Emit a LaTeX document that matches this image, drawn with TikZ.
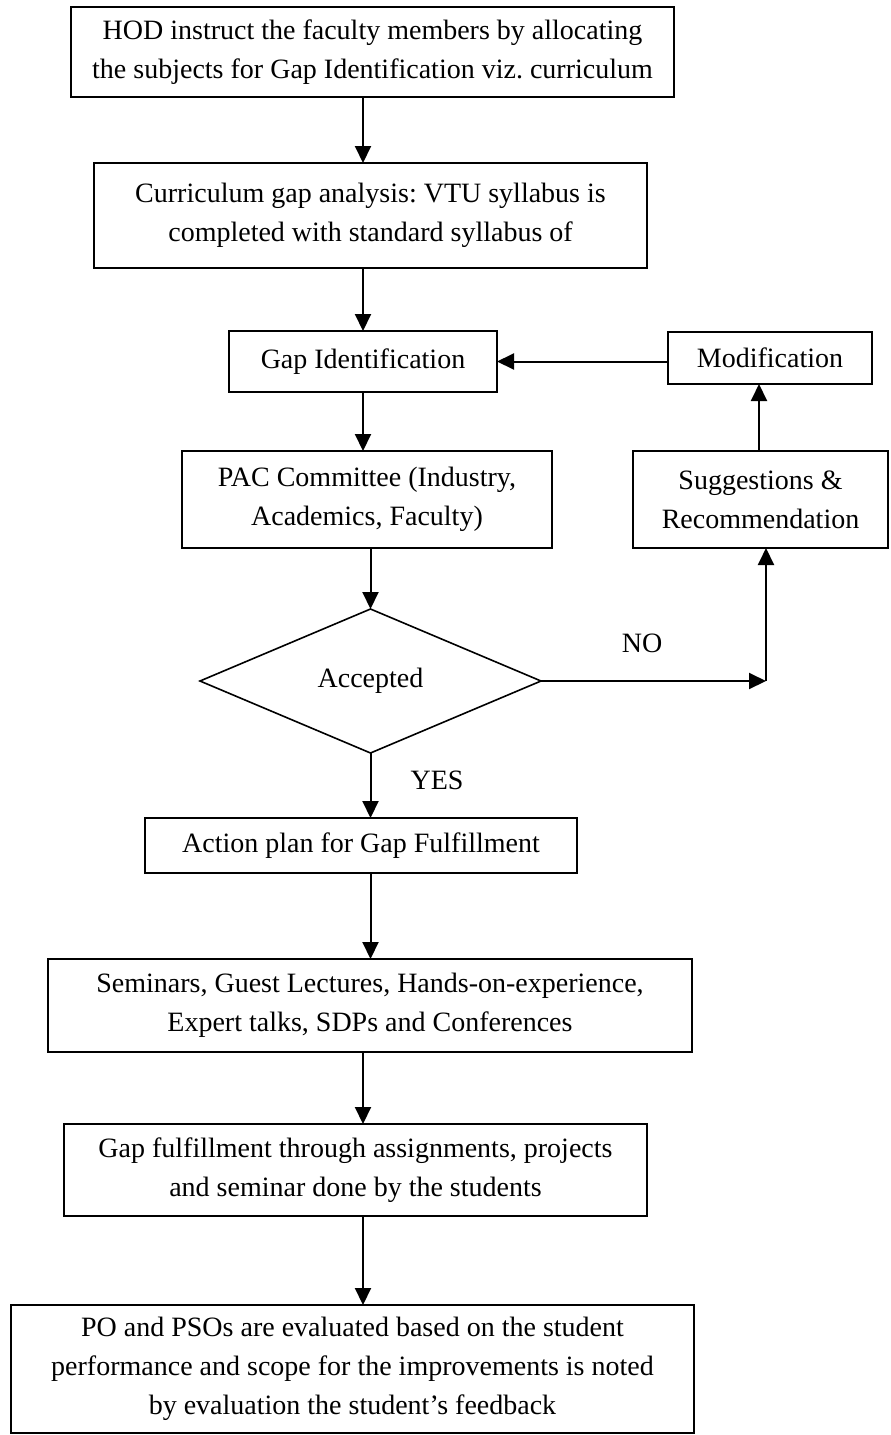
\documentclass[tikz,border=0pt]{standalone}
\usepackage{fontspec}
\setmainfont{Liberation Serif}
\frenchspacing
\usetikzlibrary{shapes.geometric,arrows.meta,calc}
\tikzset{
  box/.style={draw=black, line width=0.8pt, rectangle, inner sep=0pt, outer sep=0pt, align=center,
    font=\fontsize{14}{19.5}\selectfont},
  decision/.style={draw=black, line width=0.8pt, diamond, inner sep=0pt, outer sep=0pt, aspect=2.37,
    font=\fontsize{14}{19.5}\selectfont},
  lbl/.style={inner sep=0pt, font=\fontsize{14}{19.5}\selectfont},
  arr/.style={line width=1pt, -{Triangle[length=8.5pt,width=8pt]}},
  ln/.style={line width=1pt}
}
\begin{document}
\begin{tikzpicture}[x=0.5pt,y=-0.5pt]
\useasboundingbox (0,0) rectangle (890,1435);
\node[box, minimum width=301.5pt, minimum height=45pt] (b1) at (372.5,52)
  {HOD instruct the faculty members by allocating\\the subjects for Gap Identification viz.\ curriculum};
\node[box, minimum width=276.5pt, minimum height=52.5pt] (b2) at (370.5,215.5)
  {Curriculum gap analysis: VTU syllabus is\\completed with standard syllabus of};
\node[box, minimum width=134pt, minimum height=30.5pt] (gap) at (363,361.5) {Gap Identification};
\node[box, minimum width=102pt, minimum height=26pt] (mod) at (770,358) {Modification};
\node[box, minimum width=185pt, minimum height=48.5pt] (pac) at (367,499.5)
  {PAC Committee (Industry,\\Academics, Faculty)};
\node[box, minimum width=127.5pt, minimum height=48.5pt] (sug) at (760.5,499.5)
  {Suggestions \&\\Recommendation};
\node[decision, minimum width=170.5pt, minimum height=72pt] (dia) at (370.5,681) {Accepted};
\node[box, minimum width=216pt, minimum height=27.5pt] (act) at (361,845.5) {Action plan for Gap Fulfillment};
\node[box, minimum width=322pt, minimum height=46.5pt] (sem) at (370,1005.5)
  {Seminars, Guest Lectures, Hands-on-experience,\\Expert talks, SDPs and Conferences};
\node[box, minimum width=291.5pt, minimum height=46pt] (gf) at (355.5,1170)
  {Gap fulfillment through assignments, projects\\and seminar done by the students};
\node[box, minimum width=341.5pt, minimum height=64pt] (last) at (352.5,1369)
  {PO and PSOs are evaluated based on the student\\performance and scope for the improvements is noted\\by evaluation the student's feedback};
\node[lbl] (no) at (642,643) {NO};
\node[lbl] (yes) at (437,780) {YES};
\coordinate (corner) at (766,681);
\draw[arr] (b1.south -| gap) -- (b2.north -| gap);
\draw[arr] (b2.south -| gap) -- (gap.north);
\draw[arr] (gap.south) -- (gap.south |- pac.north);
\draw[arr] (pac.south -| dia) -- (dia.north);
\draw[arr] (dia.south) -- (dia.south |- act.north);
\draw[arr] (act.south -| dia) -- (sem.north -| dia);
\draw[arr] (sem.south -| gap) -- (gf.north -| gap);
\draw[arr] (gf.south -| gap) -- (last.north -| gap);
\draw[arr] (dia.east) -- (corner);
\draw[arr] (corner) -- (sug.south -| corner);
\draw[arr] ([xshift=-0.75pt]sug.north) -- ([xshift=-0.75pt]sug.north |- mod.south);
\draw[arr] (mod.west |- gap.east) -- (gap.east);
\end{tikzpicture}
\end{document}
